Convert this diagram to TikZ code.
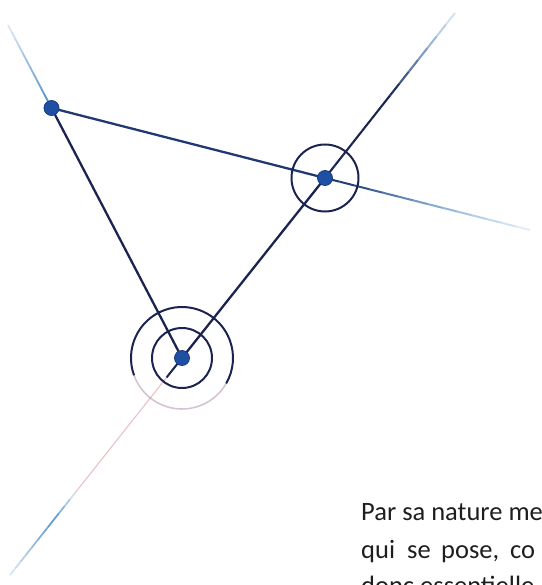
\documentclass[tikz,border=0pt]{standalone}
\usepackage{fontspec}
\setmainfont{Carlito}
\usetikzlibrary{calc,backgrounds}
\definecolor{navy}{HTML}{1B2450}
\definecolor{navyblue}{HTML}{213872}
\definecolor{dotblue}{HTML}{1E4FA3}
\definecolor{dotedge}{HTML}{163C85}
\definecolor{extblue}{HTML}{3A7FC0}
\definecolor{faintred}{HTML}{D98C98}
\definecolor{textgray}{HTML}{1E1E1E}
\tikzset{
  dot/.style={circle, fill=dotblue, draw=dotedge, line width=0.8pt, minimum size=15pt, inner sep=0pt},
  edge/.style={navy, line width=2.3pt},
  ring/.style={navy, line width=2pt},
  txt/.style={anchor=base west, inner sep=0pt, text=textgray, font=\fontsize{26.5}{38}\selectfont},
}
\begin{document}
\begin{tikzpicture}[x=1pt,y=-1pt]
\useasboundingbox (0,0) rectangle (541,585);
\clip (0,0) rectangle (541,585);
% points
\node[dot] (A) at (51.5,108) {};
\node[dot] (B) at (325,178) {};
\node[dot] (C) at (182,358) {};
% free ends of the extensions
\coordinate (EA) at (8,25);
\coordinate (EB1) at (530,230);
\coordinate (EB2) at (455,13);
\coordinate (EC) at (10,575);
\begin{scope}[on background layer]
  % extension beyond A
  \foreach \i in {0,...,11} {
    \pgfmathsetmacro\ta{\i/12}\pgfmathsetmacro\tb{(\i+1)/12}
    \pgfmathsetmacro\op{0.9-0.72*\i/11}
    \draw[extblue, line width=1.8pt, opacity=\op] ($(A.center)!\ta!(EA)$) -- ($(A.center)!\tb!(EA)$);
  }
  % extension of AB beyond B
  \foreach \i in {0,...,13} {
    \pgfmathsetmacro\ta{\i/14}\pgfmathsetmacro\tb{(\i+1)/14}
    \pgfmathsetmacro\op{min(1,1.1-0.95*\i/13)}
    \pgfmathsetmacro\mx{max(0,100-140*\i/13)}
    \draw[navyblue!\mx!extblue, line width=2pt, opacity=\op] ($(B.center)!\ta!(EB1)$) -- ($(B.center)!\tb!(EB1)$);
  }
  % extension of CB beyond B
  \foreach \i in {0,...,13} {
    \pgfmathsetmacro\ta{\i/14}\pgfmathsetmacro\tb{(\i+1)/14}
    \pgfmathsetmacro\op{\i<8 ? 1 : 1-0.13*(\i-7)}
    \pgfmathsetmacro\mx{\i<7 ? 100 : max(0,100-16*(\i-6))}
    \draw[navy!\mx!extblue, line width=2.1pt, opacity=\op] ($(B.center)!\ta!(EB2)$) -- ($(B.center)!\tb!(EB2)$);
  }
  % extension beyond C
  \draw[navy, line width=2pt] (C.center) -- ($(C.center)!0.09!(EC)$);
  \draw[faintred, line width=1.1pt, opacity=0.55] ($(C.center)!0.09!(EC)$) -- ($(C.center)!0.62!(EC)$);
  \foreach \i in {0,...,11} {
    \pgfmathsetmacro\ta{0.62+0.38*\i/12}\pgfmathsetmacro\tb{0.62+0.38*(\i+1)/12}
    \pgfmathsetmacro\op{\i<4 ? 0.25+0.18*\i : 0.8-0.085*(\i-4)}
    \draw[extblue, line width=1.7pt, opacity=\op] ($(C.center)!\ta!(EC)$) -- ($(C.center)!\tb!(EC)$);
  }
  % triangle
  \draw[edge] (A.center) -- (C.center);
  \draw[edge, navyblue] (A.center) -- (B.center);
  \draw[edge] (C.center) -- (B.center);
\end{scope}
% rings
\draw[ring] (B.center) circle[radius=33.5];
\draw[ring] (C.center) circle[radius=30];
\draw[ring] (C.center) ++(160:51) arc[start angle=160, end angle=390, radius=51];
\draw[faintred!70!extblue, line width=1.6pt, opacity=0.5] (C.center) ++(30:51) arc[start angle=30, end angle=160, radius=51];
% text
\node[txt] (t1) at (361,520) {Par sa nature me};
\node[txt] (t2a) at (361,558) {qui};
\node[txt] (t2b) at (407,558) {se};
\node[txt] (t2c) at (441,558) {pose,};
\node[txt] (t2d) at (510,558) {co};
\node[txt] (t3) at (361,594) {donc essentielle};
\end{tikzpicture}
\end{document}
